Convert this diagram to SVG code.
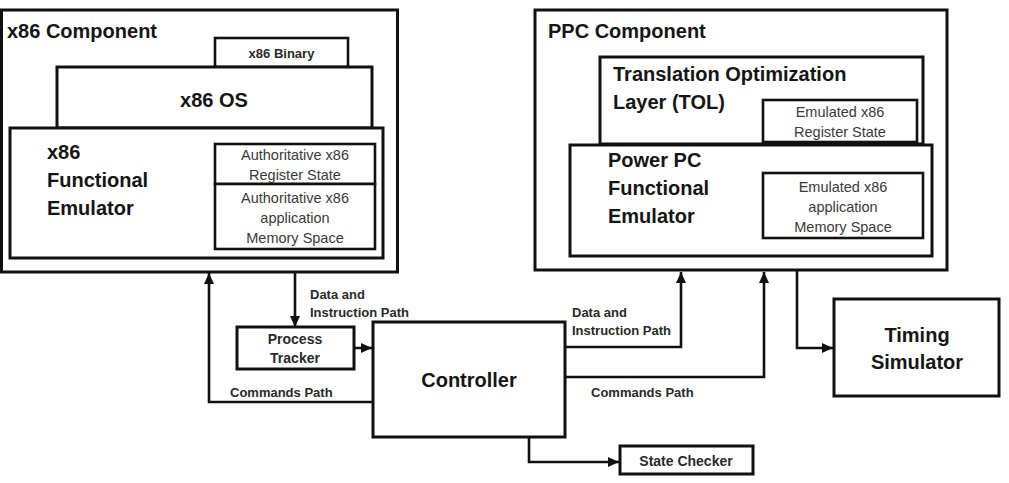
<svg xmlns="http://www.w3.org/2000/svg" width="1009" height="483" viewBox="0 0 1009 483">
<defs>
<marker id="ah" markerUnits="userSpaceOnUse" markerWidth="12" markerHeight="12" refX="11" refY="6" orient="auto">
<path d="M0,1 L11,6 L0,11 Z" fill="#111"/>
</marker>
<style>
.box{fill:#fff;stroke:#111;stroke-width:3}
.ibox{fill:#fff;stroke:#111;stroke-width:2.6}
.h{font-family:"Liberation Sans",Arial,sans-serif;font-weight:bold;font-size:20px;fill:#151515}
.s{font-family:"Liberation Sans",Arial,sans-serif;font-size:14.5px;fill:#3a3a3a;text-anchor:middle}
.b{font-family:"Liberation Sans",Arial,sans-serif;font-weight:bold;font-size:13px;fill:#2a2a2a}
.m{font-family:"Liberation Sans",Arial,sans-serif;font-weight:bold;font-size:14px;fill:#2a2a2a;text-anchor:middle}
.c{text-anchor:middle}
.ln{fill:none;stroke:#111;stroke-width:2.6}
</style>
</defs>
<rect width="1009" height="483" fill="#fff"/>

<g id="x86-component">
<rect class="box" x="1.5" y="10" width="396" height="262"/>
<text class="h" x="7" y="38">x86 Component</text>
</g>
<g id="x86-binary">
<rect class="ibox" x="215" y="38" width="133" height="29"/>
<text class="b c" x="281.5" y="58" style="text-anchor:middle">x86 Binary</text>
</g>
<g id="x86-os">
<rect class="box" x="57" y="67" width="315" height="61"/>
<text class="h c" x="214" y="107">x86 OS</text>
</g>
<g id="x86-emulator">
<rect class="box" x="10" y="128" width="373" height="130"/>
<text class="h" x="47" y="159">x86</text>
<text class="h" x="47" y="187">Functional</text>
<text class="h" x="47" y="215">Emulator</text>
</g>
<g id="auth-register">
<rect class="ibox" x="215" y="144" width="160" height="40"/>
<text class="s" x="295" y="160">Authoritative x86</text>
<text class="s" x="295" y="180">Register State</text>
</g>
<g id="auth-memory">
<rect class="ibox" x="215" y="184" width="160" height="65"/>
<text class="s" x="295" y="203">Authoritative x86</text>
<text class="s" x="295" y="223">application</text>
<text class="s" x="295" y="243">Memory Space</text>
</g>

<g id="ppc-component">
<rect class="box" x="535" y="10" width="412" height="260"/>
<text class="h" x="548" y="38">PPC Component</text>
</g>
<g id="tol">
<rect class="box" x="600" y="57" width="323" height="87"/>
<text class="h" x="613" y="81">Translation Optimization</text>
<text class="h" x="613" y="109">Layer (TOL)</text>
</g>
<g id="emu-register">
<rect class="ibox" x="763" y="100" width="154" height="42"/>
<text class="s" x="840" y="117">Emulated x86</text>
<text class="s" x="840" y="137">Register State</text>
</g>
<g id="ppc-emulator">
<rect class="box" x="570" y="145" width="362" height="111"/>
<text class="h" x="608" y="167">Power PC</text>
<text class="h" x="608" y="195">Functional</text>
<text class="h" x="608" y="223">Emulator</text>
</g>
<g id="emu-memory">
<rect class="ibox" x="763" y="173" width="160" height="65"/>
<text class="s" x="843" y="192">Emulated x86</text>
<text class="s" x="843" y="212">application</text>
<text class="s" x="843" y="232">Memory Space</text>
</g>

<g id="process-tracker">
<rect class="box" x="237" y="327" width="117" height="42"/>
<text class="m" x="295" y="344">Process</text>
<text class="m" x="295" y="363">Tracker</text>
</g>
<g id="controller">
<rect class="box" x="373" y="322" width="192" height="115"/>
<text class="h c" x="469" y="387">Controller</text>
</g>
<g id="timing-simulator">
<rect class="box" x="834" y="299" width="165" height="97"/>
<text class="h c" x="917" y="342">Timing</text>
<text class="h c" x="917" y="369">Simulator</text>
</g>
<g id="state-checker">
<rect class="box" x="620" y="446" width="133" height="28"/>
<text class="m" x="686" y="466">State Checker</text>
</g>

<g id="connectors">
<path class="ln" d="M295,273 L295,327" marker-end="url(#ah)"/>
<path class="ln" d="M373,402 L209,402 L209,273" marker-end="url(#ah)"/>
<path class="ln" d="M354,348 L372,348" marker-end="url(#ah)"/>
<path class="ln" d="M565,347 L681,347 L681,272" marker-end="url(#ah)"/>
<path class="ln" d="M565,377 L764,377 L764,272" marker-end="url(#ah)"/>
<path class="ln" d="M797,270 L797,348 L833,348" marker-end="url(#ah)"/>
<path class="ln" d="M529,437 L529,462 L619,462" marker-end="url(#ah)"/>
<text class="b" x="310" y="299">Data and</text>
<text class="b" x="310" y="317">Instruction Path</text>
<text class="b" x="230" y="397">Commands Path</text>
<text class="b" x="572" y="317">Data and</text>
<text class="b" x="572" y="335">Instruction Path</text>
<text class="b" x="591" y="397">Commands Path</text>
</g>
</svg>
